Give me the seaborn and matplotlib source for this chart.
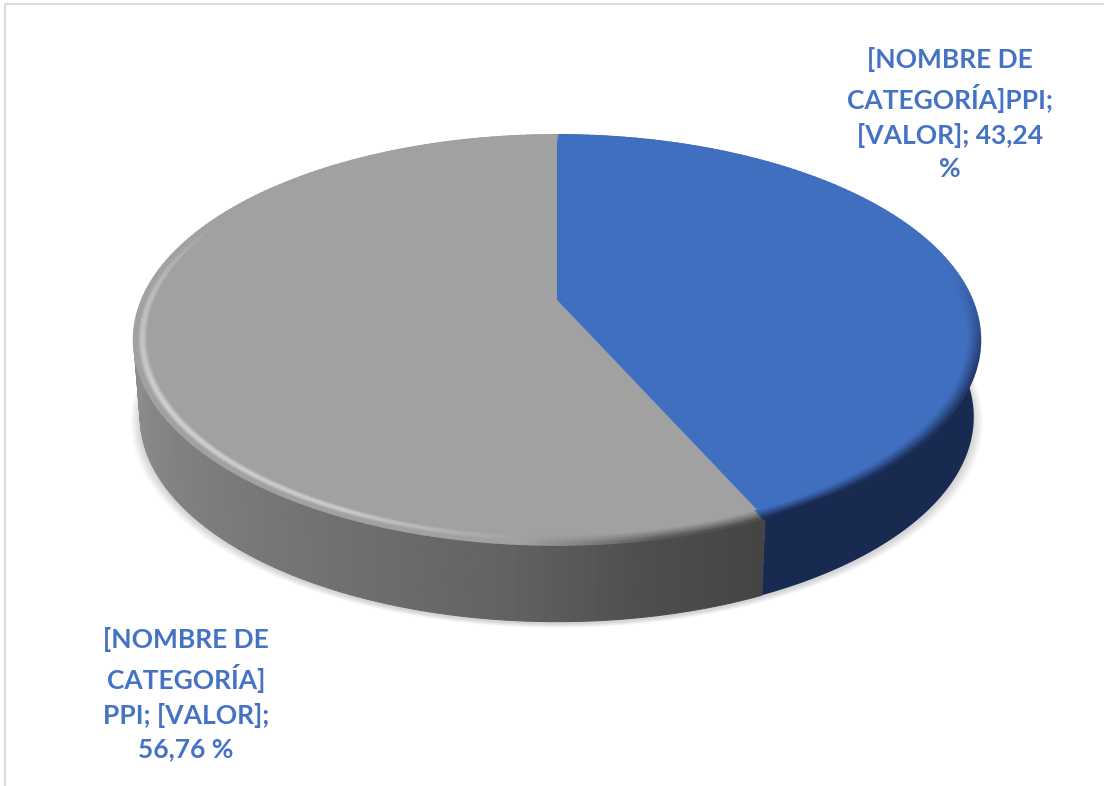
import numpy as np
import matplotlib.pyplot as plt
from matplotlib.collections import LineCollection
import seaborn as sns

# datos
categorias = ['PPI azul', 'PPI gris']
valores = [43.24, 56.76]
etiquetas = ['[NOMBRE DE\nCATEGORÍA]PPI;\n[VALOR]; 43,24\n%',
             '[NOMBRE DE\nCATEGORÍA]\nPPI; [VALOR];\n56,76 %']

sns.set_theme(style='white')
plt.rcParams['font.family'] = ['Lato', 'DejaVu Sans']
colores = sns.color_palette(['#416FBF', '#A1A1A1'])

# perspectiva del disco
cx, cy = 557, 300
sx, sy = 415, 197
k = 0.195
alto = 77


def proyectar(phi, r=1.0, dy=0, esc=1.0):
    u = r * np.sin(np.radians(phi))
    v = r * np.cos(np.radians(phi))
    w = 1 + k * v
    return cx + esc * sx * u / w, cy - sy * v / w + dy


fig, ax = plt.subplots(figsize=(11.04, 7.86), dpi=100)
fig.subplots_adjust(0, 0, 1, 1)
ax.set_xlim(0, 1104)
ax.set_ylim(786, 0)
ax.axis('off')

# borde del marco
ax.plot([5, 5, 1104], [786, 4, 4], color='#DCDCDC', lw=1.6)

corte = valores[0] / sum(valores) * 360

# sombra
todo = np.linspace(0, 360, 361)
for d in range(14, 0, -1):
    xs, ys = proyectar(todo, dy=alto + 2 + d * 0.3, esc=0.985 + d * 0.0016)
    ax.fill(xs, ys, color='black', alpha=0.012, lw=0)

# pared lateral
arco_azul = np.linspace(78, corte, 120)
x1, y1 = proyectar(arco_azul)
x2, y2 = proyectar(arco_azul[::-1], dy=alto, esc=0.985)
ax.fill(np.r_[x1, x2], np.r_[y1, y2], color='#182A50', lw=0)

pasos = np.arange(corte, 280, 1.0)
ang_gris = [155, 170, 185, 205, 225, 250, 275]
tono_gris = [68, 78, 98, 112, 124, 138, 145]
for a in pasos:
    tramo = np.array([a, a + 1.0])
    x1, y1 = proyectar(tramo)
    x2, y2 = proyectar(tramo[::-1], dy=alto, esc=0.985)
    g = np.interp(a, ang_gris, tono_gris) / 255
    c = (g, g, g * 0.99)
    ax.fill(np.r_[x1, x2], np.r_[y1, y2], color=c, lw=0.7, ec=c)

# cara superior
arco1 = np.linspace(0, corte, 200)
arco2 = np.linspace(corte, 360, 300)
for arco, color in zip([arco2, arco1], [colores[1], colores[0]]):
    xs, ys = proyectar(arco)
    ax.fill(np.r_[cx, xs], np.r_[cy, ys], color=color, lw=0)


# bisel del borde
def brillo(a):
    return np.interp(a, [80, 108, 150, 168, 185, 205, 240, 272, 295],
                     [0, -0.5, -0.7, -0.55, 0.05, 0.45, 0.5, 0.3, 0])


radios = np.linspace(0.97, 1.0, 14)
grados = np.arange(0, 360, 1.0)
for r in radios:
    t = (r - 0.97) / 0.03
    perfil = np.sin(np.pi * min(t * 1.25, 1)) ** 1.5 if t < 0.8 else 0.0
    segs, cols = [], []
    for a in grados:
        tramo = np.array([a, a + 1.2])
        xs, ys = proyectar(tramo, r=r)
        segs.append(np.column_stack([xs, ys]))
        base = np.array(colores[0] if a < corte else colores[1])
        b = brillo(a)
        if b > 0:
            c = base + (1 - base) * b * perfil
        else:
            oscuro = np.array([0.09, 0.16, 0.31]) if a < corte else np.array([0.28, 0.28, 0.27])
            c = base + (oscuro - base) * min(-b / 0.7, 1) * t ** 1.2
        cols.append(tuple(np.clip(c, 0, 1)))
    ax.add_collection(LineCollection(segs, colors=cols, lw=1.6, capstyle='butt'))

# etiquetas
azul_txt = '#4472C4'
ax.text(950, 114, etiquetas[0], ha='center', va='center', fontsize=19,
        fontweight='bold', color=azul_txt, linespacing=1.47)
ax.text(186, 694, etiquetas[1], ha='center', va='center', fontsize=19,
        fontweight='bold', color=azul_txt, linespacing=1.47)

plt.savefig('out.png', dpi=100)
